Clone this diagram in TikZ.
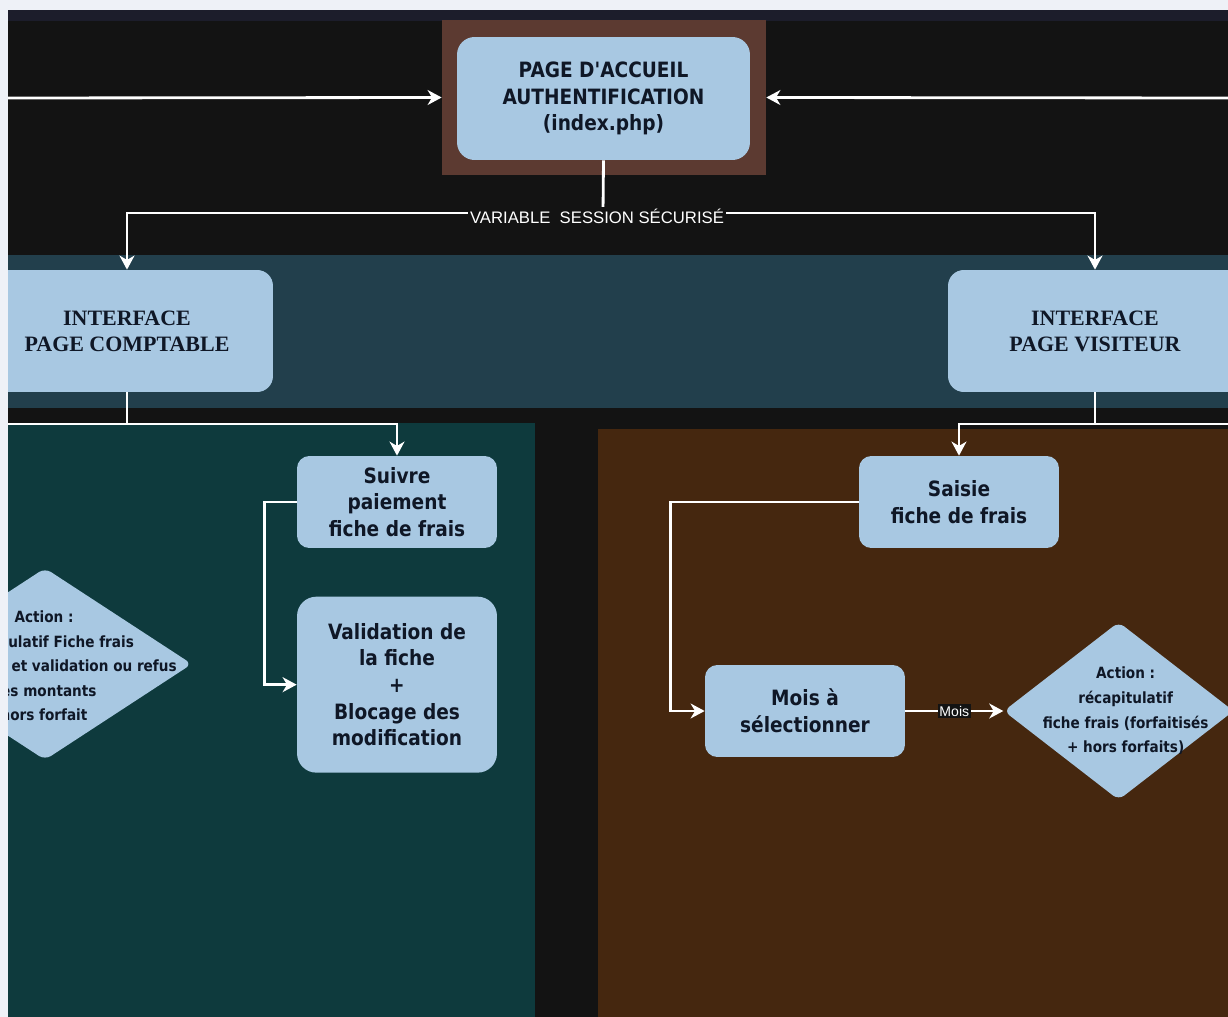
\documentclass[tikz,border=0pt]{standalone}
\usepackage{fontspec}
\setmainfont{DejaVu Sans}
\newfontfamily\boxfont{DejaVu Sans}[FakeStretch=0.88]
\newfontfamily\titlefont{Liberation Serif}
\newfontfamily\tagfont{Liberation Sans}
\usetikzlibrary{shapes.geometric, arrows.meta, positioning}
\definecolor{pagegray}{HTML}{EEF1F7}
\definecolor{nightbg}{HTML}{131313}
\definecolor{topstrip}{HTML}{1C1D2B}
\definecolor{slateband}{HTML}{223F4C}
\definecolor{tealpanel}{HTML}{0E3A3D}
\definecolor{brownpanel}{HTML}{45270F}
\definecolor{framebrown}{HTML}{5C3A31}
\definecolor{boxblue}{HTML}{A8C8E2}
\definecolor{inkblue}{HTML}{0F1726}

\begin{document}
\begin{tikzpicture}[
    x=0.02cm, y=-0.02cm,
    box/.style={fill=boxblue, rounded corners=7pt, minimum width=4cm, minimum height=1.84cm, align=center, text=inkblue, font=\boxfont\bfseries\fontsize{12}{15.2}\selectfont},
    bigbox/.style={box, minimum width=5.84cm, minimum height=2.44cm, rounded corners=9pt, font=\titlefont\bfseries\fontsize{12.5}{14.8}\selectfont},
    decision/.style={diamond, fill=boxblue, rounded corners=4pt, inner sep=0pt},
    dtext/.style={align=center, text=inkblue, font=\boxfont\bfseries\fontsize{8.8}{14}\selectfont},
    wire/.style={draw=white, line width=1.6pt},
    arrow/.style={wire, -{Stealth[length=8pt, width=8.5pt, inset=2.5pt]}},
    tag/.style={fill=nightbg, text=white, inner sep=1pt, font=\tagfont\fontsize{9.5}{11}\selectfont}
  ]
  \useasboundingbox (0,0) rectangle (1228,1017);
  \fill[pagegray] (0,0) rectangle (1228,1017);

  \begin{scope}
    \clip (8,10) rectangle (1228,1017);

    % Bands and panels
    \fill[nightbg] (8,10) rectangle (1228,1017);
    \fill[topstrip] (8,10) rectangle (1228,21);
    \fill[slateband] (8,255) rectangle (1228,408);
    \fill[tealpanel] (8,423) rectangle (535,1017);
    \fill[brownpanel] (598,429) rectangle (1228,1017);

    % Home page
    \node[fill=framebrown, inner sep=0pt, minimum width=6.48cm, minimum height=3.1cm] (frame) at (604,97.5) {};
    \node[box, minimum width=5.86cm, minimum height=2.46cm, rounded corners=10pt] (accueil) at (603.5,98.5) {PAGE D'ACCUEIL\\AUTHENTIFICATION\\(index.php)};
    \coordinate (fromleft) at (8,98);
    \coordinate (fromright) at (1228,98);
    \draw[arrow] (fromleft) -- (frame.west);
    \draw[arrow] (fromright) -- (frame.east);

    % Interfaces
    \node[bigbox] (comptable) at (127,331) {INTERFACE\\PAGE COMPTABLE};
    \node[bigbox, minimum width=5.88cm] (visiteur) at (1095,331) {INTERFACE\\PAGE VISITEUR};

    \coordinate (session) at (603,213);
    \draw[wire] (accueil.south) -- (session);
    \draw[arrow] (session) -| (comptable.north);
    \draw[arrow] (session) -| (visiteur.north);
    \node[tag] (sessionlabel) at (597,216) {VARIABLE\ \ SESSION SÉCURISÉ};

    % Comptable side
    \node[box] (suivre) at (397,502) {Suivre\\paiement\\fiche de frais};
    \node[box, minimum height=3.52cm, rounded corners=11pt, below=0.96cm of suivre] (validation) {Validation de\\la fiche\\+\\Blocage des\\modification};
    \node[decision, minimum width=5.88cm, minimum height=3.84cm] (controle) at (45,664) {};
    \node[dtext] (controletext) at (44,666) {Action :\\récapitulatif Fiche frais\\consultation et validation ou refus\\des montants\\hors forfait};

    \coordinate (cjoin) at (127,424);
    \coordinate (cleft) at (8,424);
    \draw[wire] (comptable.south) -- (cjoin);
    \draw[wire] (cjoin) -- (cleft);
    \draw[arrow] (cjoin) -| (suivre.north);
    \draw[arrow] (suivre.west) -- ++(-32,0) |- (validation.west);

    % Visiteur side
    \node[box] (saisie) at (959,502) {Saisie\\fiche de frais};
    \node[box] (mois) at (805,711) {Mois à\\sélectionner};
    \node[decision, minimum width=4.6cm, minimum height=3.56cm, right=1.96cm of mois] (recap) {};
    \node[dtext] (recaptext) at ([xshift=0.14cm]recap.center) {Action :\\récapitulatif\\fiche frais (forfaitisés\\+ hors forfaits)};

    \coordinate (vjoin) at (1095,424);
    \coordinate (vright) at (1228,424);
    \draw[wire] (visiteur.south) -- (vjoin);
    \draw[wire] (vjoin) -- (vright);
    \draw[arrow] (vjoin) -| (saisie.north);
    \draw[arrow] (saisie.west) -- ++(-188,0) |- (mois.west);
    \draw[arrow] (mois.east) -- node[tag, font=\tagfont\fontsize{8}{9}\selectfont] (moistag) {Mois} (recap.west);
  \end{scope}
\end{tikzpicture}
\end{document}
